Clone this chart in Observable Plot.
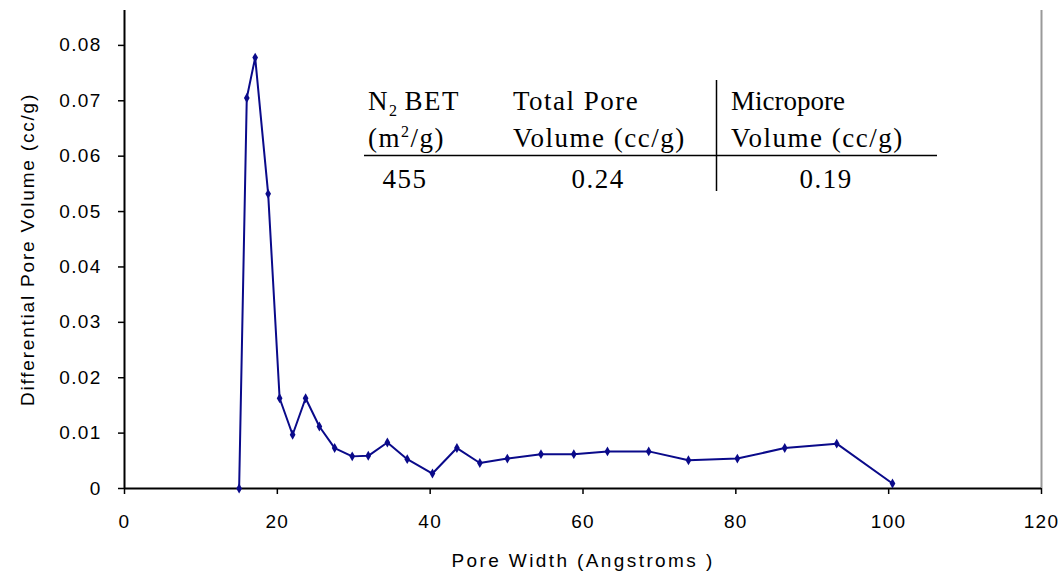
<!DOCTYPE html>
<html>
<head>
<meta charset="utf-8">
<script src="https://cdn.jsdelivr.net/npm/d3@7"></script>
<script src="https://cdn.jsdelivr.net/npm/@observablehq/plot@0.6"></script>
<style>
  html, body { margin: 0; padding: 0; background: #fff; }
  #chart { position: relative; width: 1061px; height: 578px; }
</style>
</head>
<body>
<div id="chart"></div>
<script>
// Pore width (Angstroms)
const poreWidth = [15.0, 16.0, 17.1, 18.8, 20.3, 22.0, 23.7, 25.5, 27.5, 29.8, 31.9, 34.4, 37.0, 40.3, 43.5, 46.5, 50.1, 54.5, 58.8, 63.2, 68.6, 73.8, 80.2, 86.4, 93.2, 100.5];
// Differential pore volume (cc/g)
const poreVolume = [0, 0.0705, 0.0778, 0.0532, 0.0163, 0.0097, 0.0163, 0.0112, 0.0073, 0.0058, 0.0059, 0.0083, 0.0053, 0.0027, 0.0073, 0.0046, 0.0054, 0.0062, 0.0062, 0.0067, 0.0067, 0.0051, 0.0054, 0.0073, 0.0081, 0.0009];

const xTicks = [0, 20, 40, 60, 80, 100, 120];
const yTicks = [0, 0.01, 0.02, 0.03, 0.04, 0.05, 0.06, 0.07, 0.08];
const xLabel = "Pore Width (Angstroms )";
const yLabel = "Differential Pore Volume (cc/g)";

// Inset table
const tableHeaders = [["N₂BET", "(m²/g)"], ["Total Pore", "Volume (cc/g)"], ["Micropore", "Volume (cc/g)"]];
const tableValues = ["455", "0.24", "0.19"];

const data = poreWidth.map((x, i) => ({x, y: poreVolume[i]}));
const navy = "#0a0a8a";

const plot = Plot.plot({
  width: 1061,
  height: 578,
  marginLeft: 124,
  marginRight: 20,
  marginTop: 10,
  marginBottom: 90,
  style: {fontFamily: "Liberation Sans, Arial, sans-serif", background: "#fff", color: "#000"},
  x: {domain: [0, 120]},
  y: {domain: [0, 0.0863]},
  marks: [
    Plot.ruleX([120], {y1: 0, y2: 0.0863, stroke: "#999", strokeWidth: 2}),
    Plot.axisX({ticks: xTicks, tickSize: 6, tickPadding: 20, fontSize: 19, tickFormat: d => String(d), label: xLabel, labelAnchor: "center", labelArrow: "none", labelOffset: 78, strokeWidth: 1.5}),
    Plot.axisY({ticks: yTicks, tickSize: 6, tickPadding: 17, fontSize: 19, tickFormat: d => d === 0 ? "0" : d3.format(".2f")(d), label: yLabel, labelAnchor: "center", labelArrow: "none", labelOffset: 104, strokeWidth: 1.5}),
    Plot.ruleY([0], {stroke: "#000", strokeWidth: 2}),
    Plot.ruleX([0], {y1: 0, y2: 0.0863, stroke: "#000", strokeWidth: 2}),
    Plot.line(data, {x: "x", y: "y", stroke: navy, strokeWidth: 2}),
    Plot.dot(data, {x: "x", y: "y", symbol: "diamond", r: 3, fill: navy, stroke: "none"})
  ]
});
document.getElementById("chart").appendChild(plot);

const svg = d3.select(plot);
svg.selectAll('g[aria-label="x-axis tick label"] text, g[aria-label="y-axis tick label"] text').style("letter-spacing", "1.3px");
svg.selectAll('g[aria-label="x-axis label"] text').style("letter-spacing", "2.4px");
svg.selectAll('g[aria-label="y-axis label"] text').style("letter-spacing", "1.8px");

// Draw inset table inside the SVG
const g = svg.append("g").attr("font-family", "Liberation Serif, Times New Roman, serif").attr("font-size", 27).attr("fill", "#000").attr("text-anchor", "start");
const colX = [368, 513, 731];
const valX = [405, 598, 826];
g.append("line").attr("x1", 364).attr("x2", 937).attr("y1", 155.5).attr("y2", 155.5).attr("stroke", "#000").attr("stroke-width", 1.5);
g.append("line").attr("x1", 716.5).attr("x2", 716.5).attr("y1", 80).attr("y2", 191).attr("stroke", "#000").attr("stroke-width", 1.5);
tableHeaders.forEach((lines, i) => {
  lines.forEach((t, j) => {
    const txt = g.append("text").attr("x", colX[i]).attr("y", 110 + j * 37)
      .style("letter-spacing", t === "Micropore" ? "0px" : "1.5px");
    if (t === "N₂BET") {
      txt.append("tspan").text("N");
      txt.append("tspan").attr("font-size", 16).attr("dy", 6).text("2");
      txt.append("tspan").attr("dy", -6).attr("dx", 6).text("BET");
    } else if (t === "(m²/g)") {
      txt.append("tspan").text("(m");
      txt.append("tspan").attr("font-size", 16).attr("dy", -10).text("2");
      txt.append("tspan").attr("dy", 10).text("/g)");
    } else {
      txt.text(t);
    }
  });
});
tableValues.forEach((v, i) => {
  g.append("text").attr("x", valX[i]).attr("y", 188).attr("text-anchor", "middle").style("letter-spacing", "1.5px").text(v);
});
</script>
</body>
</html>
